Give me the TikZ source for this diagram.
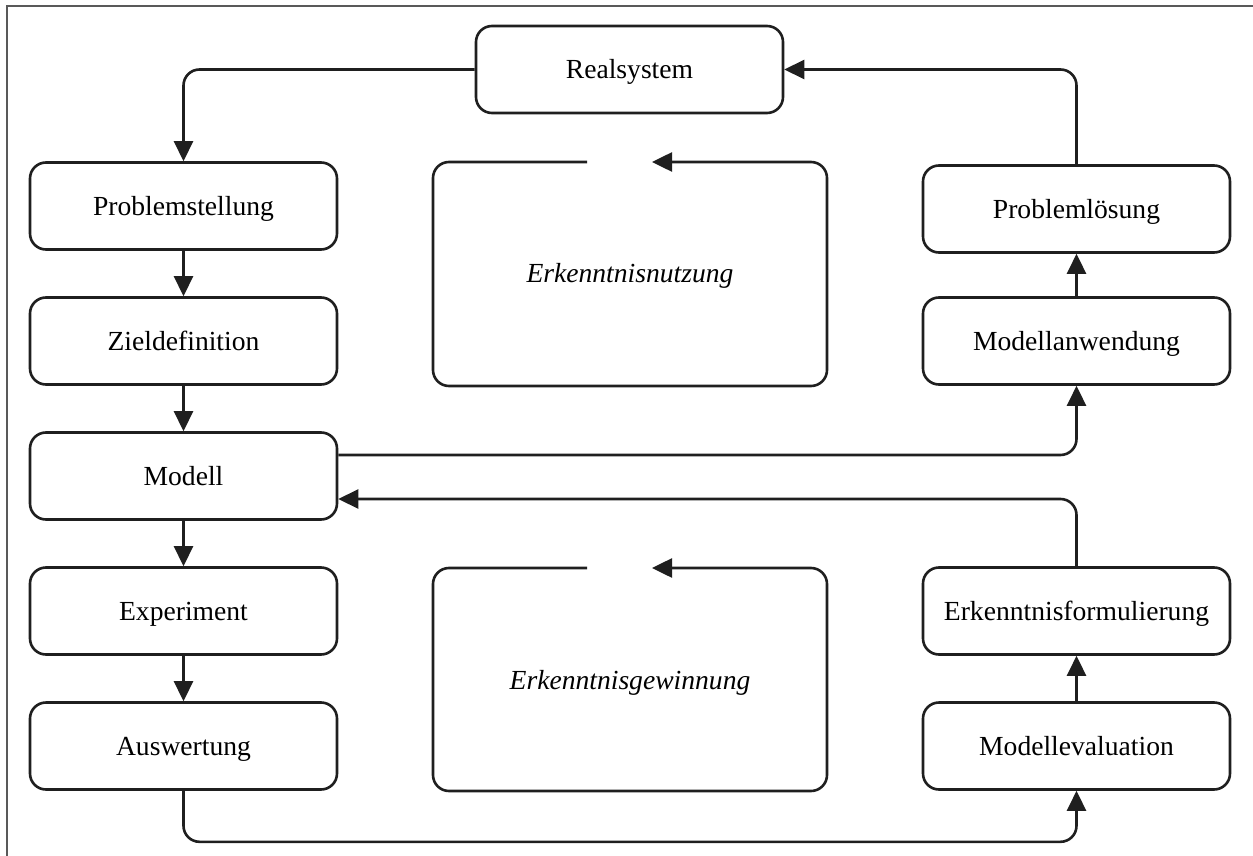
\documentclass[tikz,border=0pt]{standalone}
\usepackage{fontspec}
\setmainfont{Liberation Serif}
\usetikzlibrary{arrows.meta}
\begin{document}
\begin{tikzpicture}[x=0.5pt,y=-0.5pt,
  box/.style={draw=black!88, line width=1.3pt, rounded corners=8pt,
    minimum width=153.5pt, minimum height=43.5pt, inner sep=0pt,
    text height=9pt, text depth=0pt,
    font=\fontsize{13.8}{16}\selectfont},
  lbl/.style={font=\fontsize{13.8}{16}\selectfont\itshape, inner sep=0pt, anchor=base},
  conn/.style={draw=black!88, line width=1.3pt, rounded corners=8pt,
    -{Triangle[length=10pt,width=9.5pt]}},
  loopline/.style={draw=black!88, line width=1.3pt, rounded corners=8pt,
    -{Triangle[length=10pt,width=9.5pt]}},
  frameline/.style={draw=black!65, line width=1pt}]
\useasboundingbox (0,0) rectangle (1253,856);
% outer frame (clipped at right and bottom)
\draw[frameline] (7,856) -- (7,6) -- (1253,6);

% nodes
\node[box] (real) at (629.5,69.5) {Realsystem};
\node[box] (prob) at (183.5,206) {Problemstellung};
\node[box] (ziel) at (183.5,341) {Zieldefinition};
\node[box] (mod)  at (183.5,476) {Modell};
\node[box] (exp)  at (183.5,611) {Experiment};
\node[box] (ausw) at (183.5,746) {Auswertung};
\node[box] (loes) at (1076.5,209) {Problemlösung};
\node[box] (anw)  at (1076.5,341) {Modellanwendung};
\node[box] (form) at (1076.5,611) {Erkenntnisformulierung};
\node[box] (eval) at (1076.5,746) {Modellevaluation};

\node[lbl] (nutz) at (630,282) {Erkenntnisnutzung};
\node[lbl] (gew)  at (630,689) {Erkenntnisgewinnung};

% center loops
\draw[loopline] (587,162) -| (433,386) -| (827,162) -- (652,162);
\draw[loopline] (587,568) -| (433,791) -| (827,568) -- (652,568);

% connectors
\draw[conn] (real.west) -| (prob.north);
\draw[conn] (prob) -- (ziel);
\draw[conn] (ziel) -- (mod);
\draw[conn] (mod) -- (exp);
\draw[conn] (exp) -- (ausw);
\draw[conn] (ausw.south) -- ++(0,51) -| (eval.south);
\draw[conn] (eval) -- (form);
\draw[conn] (form.north) |- ([yshift=-11.5pt]mod.east);
\draw[conn] ([yshift=10.5pt]mod.east) -| (anw.south);
\draw[conn] (anw) -- (loes);
\draw[conn] (loes.north) |- (real.east);
\end{tikzpicture}
\end{document}
